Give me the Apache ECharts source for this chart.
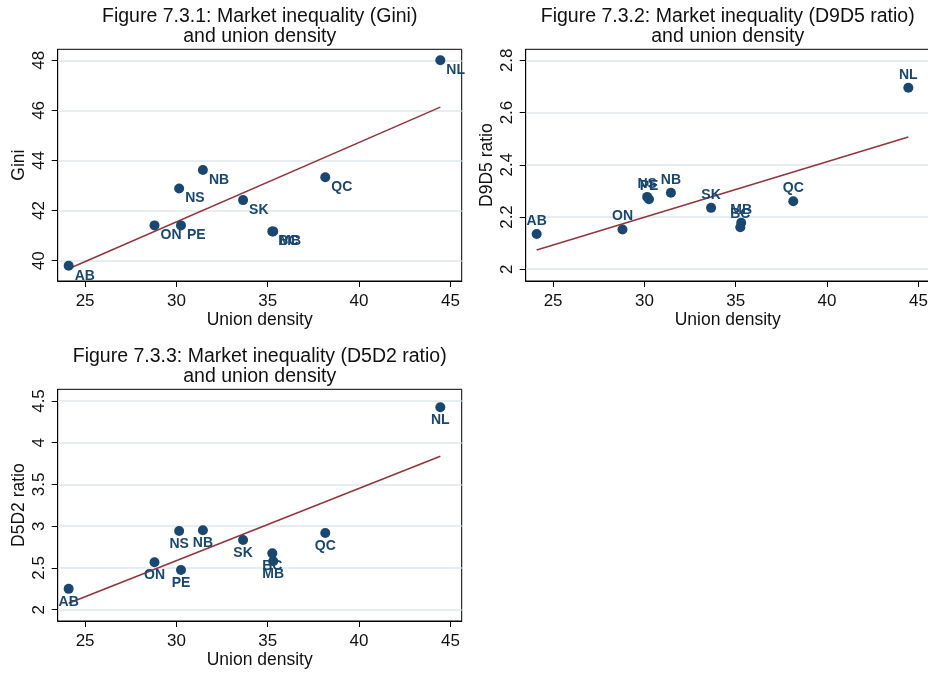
<!DOCTYPE html>
<html>
<head>
<meta charset="utf-8">
<script src="https://cdn.jsdelivr.net/npm/echarts@6/dist/echarts.min.js"></script>
<style>
html,body{margin:0;padding:0;background:#fff;}
#chart{width:928px;height:673px;}
</style>
</head>
<body>
<div id="chart"></div>
<script>
// ---- data ----
const provinces = ['AB','ON','NS','PE','NB','SK','BC','MB','QC','NL'];
const unionDensity = [24.1, 28.8, 30.15, 30.25, 31.45, 33.65, 35.25, 35.3, 38.15, 44.45];
const gini = [39.8, 41.41, 42.88, 41.41, 43.62, 42.42, 41.17, 41.17, 43.33, 48.0];
const d9d5 = [2.135, 2.152, 2.277, 2.268, 2.293, 2.235, 2.161, 2.178, 2.26, 2.695];
const d5d2 = [2.25, 2.568, 2.943, 2.475, 2.951, 2.835, 2.675, 2.58, 2.919, 4.425];

// fitted-line endpoints
const fitX = [24.1, 44.45];
const fitGini = [39.68, 46.13];
const fitD9D5 = [2.074, 2.506];
const fitD5D2 = [2.077, 3.838];

// tick labels
const xTicks = [25, 30, 35, 40, 45];
const giniTicks = [40, 42, 44, 46, 48];
const d9d5Ticks = [2, 2.2, 2.4, 2.6, 2.8];
const d5d2Ticks = [2, 2.5, 3, 3.5, 4, 4.5];

const titles = [
  'Figure 7.3.1: Market inequality (Gini)\nand union density',
  'Figure 7.3.2: Market inequality (D9D5 ratio)\nand union density',
  'Figure 7.3.3: Market inequality (D5D2 ratio)\nand union density'
];
const yNames = ['Gini', 'D9D5 ratio', 'D5D2 ratio'];
const xName = 'Union density';

// ---- styling ----
const FONT = '"Liberation Sans", Arial, Helvetica, sans-serif';
const NAVY = '#1a476f';
const MAROON = '#90353b';
const GRIDC = '#dde7eb';

const grids = [
  {left: 57.7, top: 49.3, width: 404, height: 231.7},
  {left: 525.7, top: 49.3, width: 404, height: 231.7},
  {left: 57.7, top: 389.3, width: 404, height: 231.7}
];
const yRanges = [[39.19, 48.44], [1.955, 2.842], [1.865, 4.64]];
const yTickSets = [giniTicks, d9d5Ticks, d5d2Ticks];
const yVals = [gini, d9d5, d5d2];
const fits = [fitGini, fitD9D5, fitD5D2];
const labelPos = [
  {position: 'right', distance: 1, offset: [0, 10]},
  {position: 'top', distance: 1},
  {position: 'bottom', distance: 1}
];

const option = {
  backgroundColor: '#fff',
  animation: false,
  title: grids.map((g, i) => ({
    text: titles[i],
    left: g.left + g.width / 2,
    textAlign: 'center',
    top: g.top - 42.3,
    padding: 0,
    textStyle: {fontFamily: FONT, fontSize: 19.5, fontWeight: 'normal', color: '#111', lineHeight: 20}
  })),
  grid: grids.map(g => ({
    left: g.left, top: g.top, width: g.width, height: g.height,
    show: true, borderColor: '#000', borderWidth: 1, backgroundColor: '#fff',
    containLabel: false, outerBoundsMode: 'none'
  })),
  xAxis: grids.map((g, i) => ({
    type: 'value', gridIndex: i, min: 23.5, max: 45.62,
    name: xName, nameLocation: 'middle', nameGap: 30,
    nameTextStyle: {fontFamily: FONT, fontSize: 17.5, color: '#111'},
    axisLine: {show: true, lineStyle: {color: '#000', width: 1}},
    axisTick: {show: true, length: 6, lineStyle: {color: '#000'}, customValues: xTicks},
    axisLabel: {fontFamily: FONT, fontSize: 17, color: '#111', margin: 12, customValues: xTicks},
    splitLine: {show: false}
  })),
  yAxis: grids.map((g, i) => ({
    type: 'value', gridIndex: i, min: yRanges[i][0], max: yRanges[i][1],
    name: yNames[i], nameLocation: 'middle', nameGap: 30, nameRotate: 90,
    nameTextStyle: {fontFamily: FONT, fontSize: 17.5, color: '#111'},
    axisLine: {show: true, lineStyle: {color: '#000', width: 1}},
    axisTick: {show: true, length: 6, lineStyle: {color: '#000'}, customValues: yTickSets[i]},
    axisLabel: {fontFamily: FONT, fontSize: 17, color: '#111', margin: 10, rotate: 90, customValues: yTickSets[i]},
    splitLine: {show: true, lineStyle: {color: GRIDC, width: 1.5}}
  })),
  series: []
};

for (let i = 0; i < 3; i++) {
  option.series.push({
    type: 'line', xAxisIndex: i, yAxisIndex: i,
    data: fitX.map((x, k) => [x, fits[i][k]]),
    showSymbol: false, symbol: 'none', silent: true, z: 3,
    lineStyle: {color: MAROON, width: 1.5}
  });
  option.series.push({
    type: 'scatter', xAxisIndex: i, yAxisIndex: i,
    symbol: 'circle', symbolSize: 10, z: 4,
    itemStyle: {color: NAVY, opacity: 1},
    data: unionDensity.map((x, k) => ({name: provinces[k], value: [x, yVals[i][k]]})),
    label: Object.assign({
      show: true, formatter: '{b}', color: NAVY,
      fontFamily: FONT, fontSize: 14, fontWeight: 'bold'
    }, labelPos[i])
  });
}

const chart = echarts.init(document.getElementById('chart'), null, {renderer: 'canvas'});
chart.setOption(option);
</script>
</body>
</html>
